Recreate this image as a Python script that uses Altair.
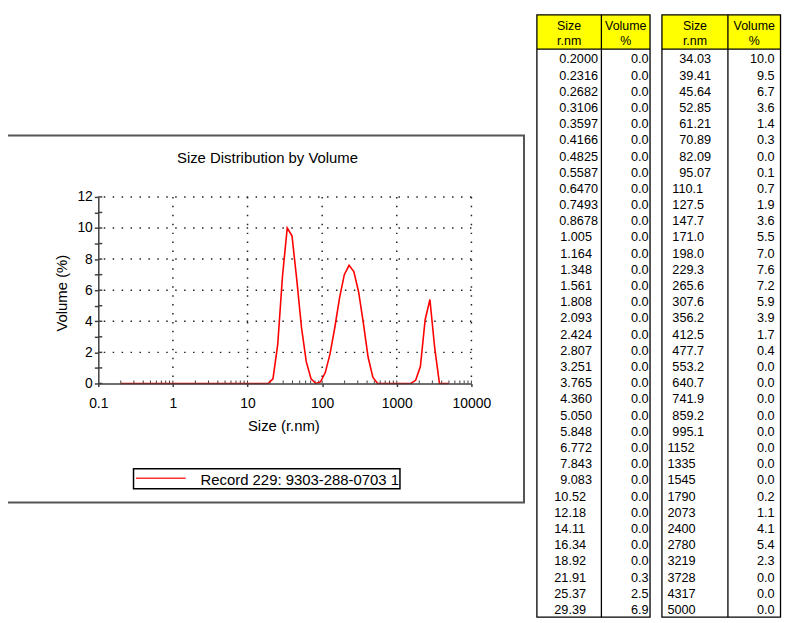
import altair as alt
import pandas as pd

# ---------------- data ----------------
size_labels_left = ["0.2000", "0.2316", "0.2682", "0.3106", "0.3597", "0.4166", "0.4825",
                    "0.5587", "0.6470", "0.7493", "0.8678", "1.005", "1.164", "1.348",
                    "1.561", "1.808", "2.093", "2.424", "2.807", "3.251", "3.765", "4.360",
                    "5.050", "5.848", "6.772", "7.843", "9.083", "10.52", "12.18", "14.11",
                    "16.34", "18.92", "21.91", "25.37", "29.39"]
volume_left = [0.0] * 32 + [0.3, 2.5, 6.9]

size_labels_right = ["34.03", "39.41", "45.64", "52.85", "61.21", "70.89", "82.09", "95.07",
                     "110.1", "127.5", "147.7", "171.0", "198.0", "229.3", "265.6", "307.6",
                     "356.2", "412.5", "477.7", "553.2", "640.7", "741.9", "859.2", "995.1",
                     "1152", "1335", "1545", "1790", "2073", "2400", "2780", "3219", "3728",
                     "4317", "5000"]
volume_right = [10.0, 9.5, 6.7, 3.6, 1.4, 0.3, 0.0, 0.1, 0.7, 1.9, 3.6, 5.5, 7.0, 7.6, 7.2,
                5.9, 3.9, 1.7, 0.4, 0.0, 0.0, 0.0, 0.0, 0.0, 0.0, 0.0, 0.0, 0.2, 1.1, 4.1,
                5.4, 2.3, 0.0, 0.0, 0.0]

x_tick_values = [0.1, 1, 10, 100, 1000, 10000]
x_grid_values = [1, 10, 100, 1000, 10000]
x_small_ticks = [m * 10.0 ** k for k in range(-1, 4) for m in range(2, 11)]
y_tick_values = list(range(0, 13))
y_grid_values = [2, 4, 6, 8, 10, 12]

chart_title = "Size Distribution by Volume"
x_title = "Size (r.nm)"
y_title = "Volume (%)"
legend_label = "Record 229: 9303-288-0703 1"
head_size = ["Size", "r.nm"]
head_vol = ["Volume", "%"]

# ---------------- layout helpers ----------------
W, H = 376, 188
OX, OY = 99, 196          # page position of plot origin
FONT = "Liberation Sans"


def px(x):
    return x - OX


def py(y):
    return y - OY


def fmt_class(lbl):
    if "." not in lbl:
        return "e"
    ip = lbl.split(".")[0]
    if ip == "0":
        return "a"
    return {1: "b", 2: "c", 3: "d"}[len(ip)]


curve = pd.DataFrame({
    "size": [float(s) for s in size_labels_left + size_labels_right],
    "volume": volume_left + volume_right,
})

dummy = pd.DataFrame({"k": [0]})

xscale = alt.Scale(type="log", domain=[0.1, 10000], nice=False)
yscale = alt.Scale(domain=[0, 12], nice=False, zero=False)
axis_common = dict(title=None, grid=False, labelFlush=False, labelOverlap=False,
                   labelFont=FONT, labelFontSize=14, labelColor="black", zindex=2,
                   domainColor="#404040", domainWidth=1.5, tickColor="#404040", tickWidth=1.5)
xaxis = alt.Axis(values=x_tick_values, tickSize=3, labelPadding=10,
                 labelExpr="datum.value < 1 ? '0.1' : format(datum.value, 'd')", **axis_common)
yaxis = alt.Axis(values=y_tick_values, tickSize=4, labelPadding=2,
                 labelExpr="datum.value % 2 == 0 ? datum.label : ''", **axis_common)

grid_style = dict(color="#222222", strokeDash=[1.5, 7.5], strokeWidth=1.5)
grid_v = alt.Chart(pd.DataFrame({"g": x_grid_values})).mark_rule(**grid_style).encode(
    x=alt.X("g:Q", scale=xscale, axis=xaxis))
grid_h = alt.Chart(pd.DataFrame({"g": y_grid_values})).mark_rule(**grid_style).encode(
    y=alt.Y("g:Q", scale=yscale, axis=yaxis))
x_in = alt.Chart(pd.DataFrame({"t": x_small_ticks})).mark_rule(color="#404040", strokeWidth=1).encode(
    x=alt.X("t:Q", scale=xscale, axis=xaxis), y=alt.value(H), y2=alt.value(H - 3))
y_in = alt.Chart(pd.DataFrame({"t": y_tick_values})).mark_rule(color="#404040", strokeWidth=1.5).encode(
    y=alt.Y("t:Q", scale=yscale, axis=yaxis), x=alt.value(0), x2=alt.value(4))
line = alt.Chart(curve).mark_line(color="#ff0000", strokeWidth=1.6).encode(
    x=alt.X("size:Q", scale=xscale, axis=xaxis),
    y=alt.Y("volume:Q", scale=yscale, axis=yaxis))
main = alt.layer(grid_v, grid_h, x_in, y_in, line)


def vrect(x1, x2, y1, y2, **kw):
    return alt.Chart(dummy).mark_rect(**kw).encode(
        x=alt.value(px(x1)), x2=alt.value(px(x2)), y=alt.value(py(y1)), y2=alt.value(py(y2)))


def vtext(txt, x, y, **kw):
    opts = dict(font=FONT, color="black", text=txt)
    opts.update(kw)
    return alt.Chart(dummy).mark_text(**opts).encode(x=alt.value(px(x)), y=alt.value(py(y)))


def hrule(x1, x2, y, **kw):
    return alt.Chart(dummy).mark_rule(**kw).encode(
        x=alt.value(px(x1)), x2=alt.value(px(x2)), y=alt.value(py(y)))


def vrule(x, y1, y2, **kw):
    return alt.Chart(dummy).mark_rule(**kw).encode(
        x=alt.value(px(x)), y=alt.value(py(y1)), y2=alt.value(py(y2)))


# panel decoration
frame = vrect(7, 528, 134, 504, fillOpacity=0, stroke="#555555", strokeWidth=2)
title = vtext(chart_title, 269.5, 162, fontSize=15, align="center", baseline="alphabetic")
xt = vtext(x_title, 286, 432, fontSize=15, align="center", baseline="alphabetic")
yt = vtext(y_title, 67, 293, fontSize=15, align="center", baseline="alphabetic", angle=270)
leg_box = vrect(134.5, 403, 470, 490, fillOpacity=0, stroke="black", strokeWidth=1.5)
leg_line = hrule(137, 187, 479.5, color="#ff3030", strokeWidth=1.3)
leg_text = vtext(legend_label, 202, 486, fontSize=15, align="left", baseline="alphabetic")

# tables
TOP, HEAD_BOT, BOT = 12.5, 47, 619.5
ROW0, ROWN = 57.4, 612.3
rowscale = alt.Scale(domain=[0, 34], range=[py(ROW0), py(ROWN)], nice=False, zero=False)


def table_layers(labels, vols, left, div, right):
    df = pd.DataFrame({"label": labels, "vol": vols, "row": list(range(len(labels))),
                       "cls": [fmt_class(l) for l in labels]})
    offs = {"a": 22.5, "b": 23.5, "c": 17.5, "d": 10.5, "e": 5.5}
    base = alt.Chart(df)
    text_layers = []
    for c in sorted(set(df["cls"])):
        text_layers.append(
            base.transform_filter(alt.datum.cls == c).mark_text(
                font=FONT, fontSize=12.8, align="left", baseline="middle", color="black").encode(
                x=alt.value(px(left + offs[c])),
                y=alt.Y("row:Q", scale=rowscale, axis=None),
                text="label:N"))
    text_layers.append(
        base.mark_text(font=FONT, fontSize=12.8, align="right", baseline="middle", color="black").encode(
            x=alt.value(px(right - 1.5 - (right - div - 49) * 1.1)),
            y=alt.Y("row:Q", scale=rowscale, axis=None),
            text=alt.Text("vol:Q", format=".1f")))
    hs = dict(fontSize=12.5, align="center", baseline="alphabetic")
    deco = [
        vrect(left, right, TOP, HEAD_BOT, fill="#ffff00"),
        vrect(left, right, TOP, BOT, fillOpacity=0, stroke="black", strokeWidth=1.3),
        vrule(div, TOP, BOT, color="black", strokeWidth=1.3),
        hrule(left, right, HEAD_BOT, color="black", strokeWidth=1.3),
        vtext(head_size[0], (left + div) / 2, 28, **hs),
        vtext(head_size[1], (left + div) / 2, 42.5, **hs),
        vtext(head_vol[0], (div + right) / 2, 28, **hs),
        vtext(head_vol[1], (div + right) / 2, 42.5, **hs),
    ]
    return deco, text_layers


deco_l, text_l = table_layers(size_labels_left, volume_left, 541, 606, 655)
deco_r, text_r = table_layers(size_labels_right, volume_right, 667, 733.5, 786.5)
tables = alt.layer(*(text_l + text_r))

chart = alt.layer(
    frame, main, title, xt, yt, leg_box, leg_line, leg_text, *deco_l, *deco_r, tables
).resolve_scale(x="independent", y="independent").properties(
    width=W, height=H,
    autosize=alt.AutoSizeParams(type="none"),
    padding={"left": 91, "top": 188, "right": 313, "bottom": 237},
    background="white",
).configure_view(strokeWidth=0)

chart.save("out.html", embed_options={"renderer": "svg", "actions": False})
